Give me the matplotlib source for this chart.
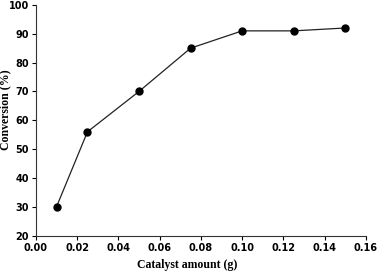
import matplotlib
matplotlib.use("Agg")
import matplotlib.pyplot as plt

# Datos
catalyst = [0.01, 0.025, 0.05, 0.075, 0.10, 0.125, 0.15]
conversion = [30, 56, 70, 85, 91, 91, 92]

fig = plt.figure(figsize=(3.78, 2.73), dpi=100)
ax = fig.add_axes([0.095, 0.137, 0.873, 0.845])

ax.plot(catalyst, conversion, color='#222222', linewidth=0.9,
        marker='o', markersize=5, markerfacecolor='black', markeredgecolor='black')

ax.set_xlim(0, 0.16)
ax.set_ylim(20, 100)
ax.set_xticks([0.00, 0.02, 0.04, 0.06, 0.08, 0.10, 0.12, 0.14, 0.16])
ax.set_yticks(range(20, 101, 10))
ax.set_xticklabels(['%.2f' % t for t in ax.get_xticks()])

for s in ['top', 'right']:
    ax.spines[s].set_visible(False)
for s in ['left', 'bottom']:
    ax.spines[s].set_linewidth(0.8)
    ax.spines[s].set_color('#333333')

ax.tick_params(direction='out', length=3, width=0.8, labelsize=7, pad=2)
for lbl in ax.get_xticklabels() + ax.get_yticklabels():
    lbl.set_fontweight('bold')
    lbl.set_family('DejaVu Sans')

ax.set_xlabel('Catalyst amount (g)', family='Liberation Serif', fontweight='bold', fontsize=8.5)
ax.set_ylabel('Conversion (%)', family='Liberation Serif', fontweight='bold', fontsize=8.5)
ax.xaxis.set_label_coords(0.457, -0.10)
ax.yaxis.set_label_coords(-0.075, 0.544)

fig.savefig('out.png', dpi=100)
